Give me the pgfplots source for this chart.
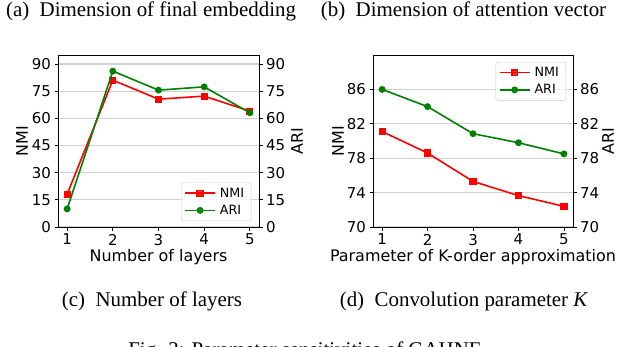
\documentclass[border=0pt]{standalone}
\usepackage{fontspec}
\setmainfont{Liberation Serif}
\newfontfamily\dejavu{DejaVu Sans}
\usepackage{pgfplots}
\pgfplotsset{compat=1.18}
\definecolor{mplgreen}{RGB}{0,128,0}
\definecolor{mplred}{RGB}{255,0,0}
\newcommand{\capfont}{\fontsize{21}{24}\selectfont}
\newcommand{\tickfont}{\dejavu\fontsize{15}{16}\selectfont}
\newcommand{\labfont}{\dejavu\fontsize{16}{18}\selectfont}
\newcommand{\legfont}{\dejavu\fontsize{12.8}{14}\selectfont}

\pgfplotsset{
  base/.style={
    scale only axis, width=201bp, height=172bp,
    xmin=0.8, xmax=5.2,
    tick align=outside, major tick length=3.5bp,
    tick style={black, line width=0.8bp},
    axis line style={line width=0.9bp},
    /pgf/number format/assume math mode=true,
    ticklabel style={font=\tickfont},
    label style={font=\labfont},
  },
  nmi/.style={mplred, line width=1.6bp, mark=square*, mark size=2.8bp, mark options={solid}},
  ari/.style={mplgreen, line width=1.6bp, mark=*, mark size=2.6bp, mark options={solid}},
  legend image code/.code={\draw[mark repeat=2,mark phase=2] plot coordinates {(0bp,0bp)(15bp,0bp)(30bp,0bp)};},
  mylegend/.style={legend style={font=\legfont, draw=black!20, rounded corners=2bp, fill=white, fill opacity=0.8, text opacity=1, inner xsep=3bp, inner ysep=3bp, row sep=2.5bp, nodes={inner xsep=4bp}}, legend cell align=left},
}

\begin{document}
\begin{tikzpicture}[x=1bp,y=1bp]
\useasboundingbox (0,0) rectangle (618,346);

% ---------- left plot: number of layers ----------
\begin{axis}[base, at={(58bp,119bp)}, anchor=south west,
  ymin=0, ymax=95, ytick={0,15,30,45,60,75,90},
  xtick={1,2,3,4,5}, xtick pos=lower, ytick pos=left,
  ymajorgrids, major grid style={black!18, line width=1.2bp},
  xlabel={Number of layers}, ylabel={NMI},
  xlabel style={at={(axis description cs:0.5,-0.198)}, anchor=base},
  ylabel style={at={(axis description cs:-0.179,0.5)}, anchor=center},
]
\addplot[nmi] coordinates {(1,18.1) (2,81.1) (3,70.6) (4,72.3) (5,64.0)};
\end{axis}
\begin{axis}[base, at={(58bp,119bp)}, anchor=south west,
  ymin=0, ymax=95, ytick={0,15,30,45,60,75,90},
  axis x line=none, axis y line*=right, ytick pos=right,
  ylabel={ARI},
  ylabel style={at={(axis description cs:1.189,0.5)}, anchor=center},
  mylegend, legend style={at={(0.962,0.035)}, anchor=south east},
]
\addlegendimage{nmi}
\addlegendentry{NMI}
\addplot[ari] coordinates {(1,10.0) (2,86.1) (3,75.6) (4,77.4) (5,63.1)};
\addlegendentry{ARI}
\end{axis}

% ---------- right plot: K ----------
\begin{axis}[base, at={(373bp,119bp)}, anchor=south west, width=200bp,
  ymin=70, ymax=90, ytick={70,74,78,82,86},
  xtick={1,2,3,4,5}, xtick pos=lower, ytick pos=left,
  ymajorgrids, major grid style={black!18, line width=1.2bp},
  xlabel={Parameter of K-order approximation}, ylabel={NMI},
  xlabel style={at={(axis description cs:0.5,-0.198)}, anchor=base},
  ylabel style={at={(axis description cs:-0.175,0.5)}, anchor=center},
]
\addplot[nmi] coordinates {(1,81.1) (2,78.6) (3,75.3) (4,73.65) (5,72.4)};
\end{axis}
\begin{axis}[base, at={(373bp,119bp)}, anchor=south west, width=200bp,
  ymin=70, ymax=90, ytick={70,74,78,82,86},
  axis x line=none, axis y line*=right, ytick pos=right,
  ylabel={ARI},
  ylabel style={at={(axis description cs:1.175,0.5)}, anchor=center},
  mylegend, legend style={at={(0.965,0.959)}, anchor=north east},
]
\addlegendimage{nmi}
\addlegendentry{NMI}
\addplot[ari] coordinates {(1,86.0) (2,84.0) (3,80.85) (4,79.8) (5,78.5)};
\addlegendentry{ARI}
\end{axis}

% ---------- captions ----------
\node[anchor=base, font=\capfont, inner sep=0pt] at (151,329.5) {(a)\hspace{0.5em}Dimension of final embedding};
\node[anchor=base, font=\capfont, inner sep=0pt] at (463.5,329.5) {(b)\hspace{0.5em}Dimension of attention vector};
\node[anchor=base, font=\capfont, inner sep=0pt] at (152,39.5) {(c)\hspace{0.5em}Number of layers};
\node[anchor=base, font=\capfont, inner sep=0pt] at (464,39.5) {(d)\hspace{0.5em}Convolution parameter \textit{K}};
\node[anchor=base, font=\capfont, inner sep=0pt] at (305,-10) {Fig. 3: Parameter sensitivities of GAHNE};
\end{tikzpicture}
\end{document}
